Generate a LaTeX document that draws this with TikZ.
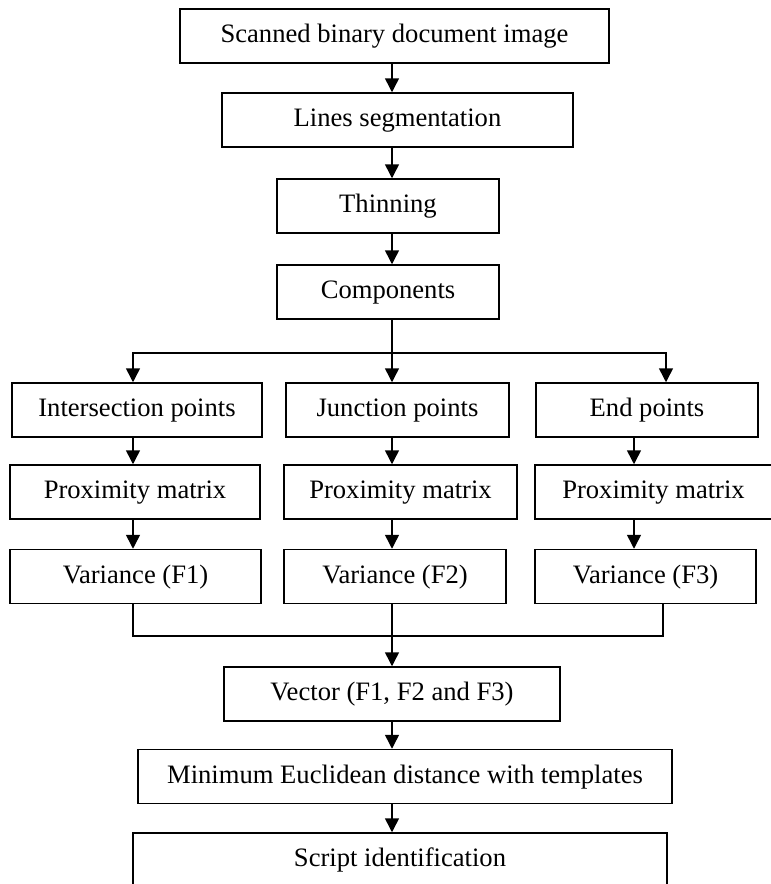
\documentclass[tikz,border=0pt]{standalone}
\usepackage{fontspec}
\setmainfont{Liberation Serif}
\usetikzlibrary{arrows.meta}

\begin{document}
\begin{tikzpicture}[x=0.5pt,y=-0.5pt,line width=0.75pt,
        >={Triangle[length=7pt,width=7pt]},
        blk/.style={draw,minimum height=27pt,inner sep=0pt,
            text height=0.8em,text depth=0.14em,
            font=\fontsize{13.3}{16}\selectfont}]
        \useasboundingbox (0,0) rectangle (771,884);

        % main chain
        \node[blk,minimum width=214.5pt] (scan) at (394.5,36) {Scanned binary document image};
        \node[blk,minimum width=175.5pt] (lines) at (397.5,120) {Lines segmentation};
        \node[blk,minimum width=111pt] (thin) at (388,206) {Thinning};
        \node[blk,minimum width=111pt] (comp) at (388,292) {Components};

        % three branches
        \node[blk,minimum width=125pt] (inter) at (137,410) {Intersection points};
        \node[blk,minimum width=111.5pt] (junc) at (397.5,410) {Junction points};
        \node[blk,minimum width=111pt] (endp) at (647,410) {End points};

        \node[blk,minimum width=125pt] (prox1) at (135,492) {Proximity matrix};
        \node[blk,minimum width=116.5pt] (prox2) at (400.5,492) {Proximity matrix};
        \node[blk,minimum width=118.5pt] (prox3) at (653.5,492) {Proximity matrix};

        \node[blk,minimum width=125.5pt] (var1) at (135.5,576.5) {Variance (F1)};
        \node[blk,minimum width=111pt] (var2) at (395,576.5) {Variance (F2)};
        \node[blk,minimum width=110.5pt] (var3) at (645.5,576.5) {Variance (F3)};

        % classification
        \node[blk,minimum width=168pt] (vector) at (392,694) {Vector (F1, F2 and F3)};
        \node[blk,minimum width=267pt] (mindist) at (405,776.5) {Minimum Euclidean distance with templates};
        \node[blk,minimum width=267pt] (script) at (400,860) {Script identification};

        \coordinate (trunk) at (392,0);
        \coordinate (c1) at (133,0);
        \coordinate (c3top) at (666,0);
        \coordinate (c3) at (634,0);
        \coordinate (c3out) at (663,0);
        \coordinate (split) at (392,353);
        \coordinate (merge) at (392,636);

        \draw[->] (scan.south -| trunk) -- (lines.north -| trunk);
        \draw[->] (lines.south -| trunk) -- (thin.north -| trunk);
        \draw[->] (thin.south -| trunk) -- (comp.north -| trunk);
        \draw (comp.south -| trunk) -- (split);
        \draw[->] (split) -| (c1 |- inter.north);
        \draw[->] (split) -- (junc.north -| trunk);
        \draw[->] (split) -| (c3top |- endp.north);

        \draw[->] (inter.south -| c1) -- (prox1.north -| c1);
        \draw[->] (prox1.south -| c1) -- (var1.north -| c1);
        \draw[->] (junc.south -| trunk) -- (prox2.north -| trunk);
        \draw[->] (prox2.south -| trunk) -- (var2.north -| trunk);
        \draw[->] (endp.south -| c3) -- (prox3.north -| c3);
        \draw[->] (prox3.south -| c3) -- (var3.north -| c3);

        \draw (var1.south -| c1) |- (merge);
        \draw (var3.south -| c3out) |- (merge);
        \draw[->] (var2.south -| trunk) -- (vector.north -| trunk);
        \draw[->] (vector.south -| trunk) -- (mindist.north -| trunk);
        \draw[->] (mindist.south -| trunk) -- (script.north -| trunk);
\end{tikzpicture}
\end{document}
